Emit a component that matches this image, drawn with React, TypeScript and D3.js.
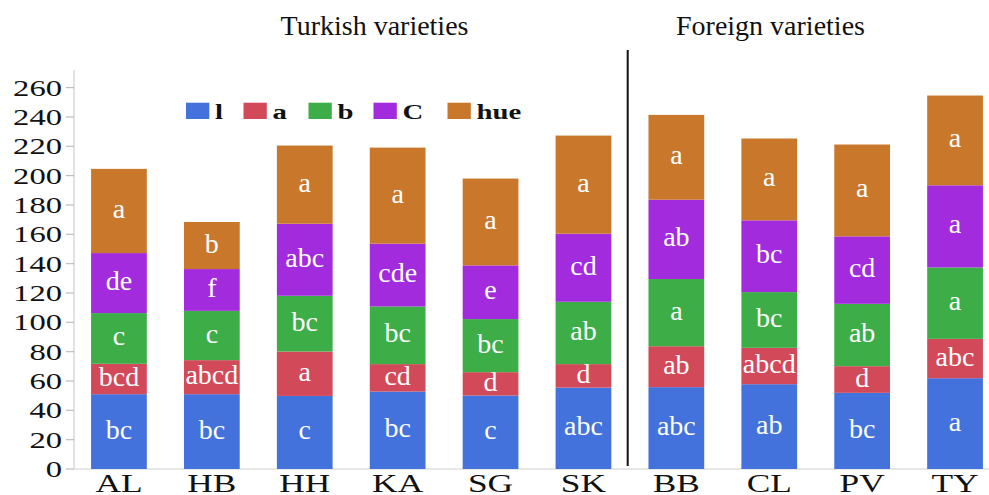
import React from "react";
import * as d3 from "d3";

const categories = ["AL", "HB", "HH", "KA", "SG", "SK", "BB", "CL", "PV", "TY"];
const seriesNames = ["l", "a", "b", "C", "hue"];
const lValues = [51.0, 51.0, 49.8, 52.8, 50.1, 55.5, 55.8, 57.8, 51.9, 61.9];
const aValues = [20.7, 23.2, 30.3, 18.7, 15.9, 16.0, 27.9, 24.8, 18.2, 26.8];
const bValues = [34.6, 33.6, 38.0, 39.3, 36.2, 42.5, 45.8, 38.0, 42.5, 48.7];
const cValues = [40.9, 28.5, 49.1, 42.8, 36.6, 46.4, 54.1, 48.9, 46.0, 56.0];
const hueValues = [57.4, 32.1, 53.3, 65.5, 59.2, 66.9, 57.8, 55.8, 62.6, 61.2];
const lLetters = ["bc", "bc", "c", "bc", "c", "abc", "abc", "ab", "bc", "a"];
const aLetters = ["bcd", "abcd", "a", "cd", "d", "d", "ab", "abcd", "d", "abc"];
const bLetters = ["c", "c", "bc", "bc", "bc", "ab", "a", "bc", "ab", "a"];
const cLetters = ["de", "f", "abc", "cde", "e", "cd", "ab", "bc", "cd", "a"];
const hueLetters = ["a", "b", "a", "a", "a", "a", "a", "a", "a", "a"];
const yTicks = [0, 20, 40, 60, 80, 100, 120, 140, 160, 180, 200, 220, 240, 260];
const groupTitles = ["Turkish varieties", "Foreign varieties"];

const colors = ["#4472DC", "#D24A5A", "#3DAE47", "#A22BDD", "#C9782B"];
const FONT = "Liberation Serif, Times New Roman, serif";
const ts: React.CSSProperties = { fontFamily: FONT };

export default function App() {
  const W = 989;
  const H = 495;
  const series = [lValues, aValues, bValues, cValues, hueValues];
  const letters = [lLetters, aLetters, bLetters, cLetters, hueLetters];

  const x = d3
    .scaleBand<string>()
    .domain(categories)
    .range([72.5, 1001.5])
    .paddingInner(0.4)
    .paddingOuter(0.2);
  const y = d3.scaleLinear().domain([0, 260]).range([469, 87.6]);

  const table = categories.map((c, i) => {
    const row: any = { cat: c };
    seriesNames.forEach((s, k) => (row[s] = series[k][i]));
    return row;
  });
  const stacked = d3.stack<any>().keys(seriesNames)(table);

  const legendX = [186, 243.5, 308.5, 373.5, 447.5];
  const divX = 627.7;

  return (
    <div style={{ position: "absolute", left: 0, top: 0 }}>
      <svg width={W} height={H} style={{ display: "block", background: "#fff" }}>
        {/* titles */}
        <text x={374.5} y={35} textAnchor="middle" fontSize={28} fill="#111" style={ts}>
          {groupTitles[0]}
        </text>
        <text x={770.5} y={35} textAnchor="middle" fontSize={28} fill="#111" style={ts}>
          {groupTitles[1]}
        </text>

        {/* axes */}
        <line x1={74} x2={74} y1={70} y2={469} stroke="#cfcfcf" strokeWidth={1.2} />
        <line x1={74} x2={989} y1={469} y2={469} stroke="#cfcfcf" strokeWidth={1.2} />
        {yTicks.map((t) => (
          <g key={t}>
            <line x1={66} x2={74} y1={y(t)} y2={y(t)} stroke="#bdbdbd" strokeWidth={1.2} />
            <text
              transform={`translate(62,${y(t) + 8}) scale(1.36,1)`}
              textAnchor="end"
              fontSize={24}
              fill="#111"
              style={ts}
            >
              {t}
            </text>
          </g>
        ))}

        {/* bars */}
        {stacked.map((layer, k) => (
          <g key={layer.key}>
            {layer.map((d, i) => {
              const y0 = y(d[0]);
              const y1 = y(d[1]);
              const bx = x(categories[i])!;
              return (
                <g key={i}>
                  <rect x={bx} y={y1} width={x.bandwidth()} height={y0 - y1} fill={colors[k]} />
                  <text
                    x={bx + x.bandwidth() / 2}
                    y={(y0 + y1) / 2 + 7}
                    textAnchor="middle"
                    fontSize={28}
                    fill="#fff"
                    style={ts}
                  >
                    {letters[k][i]}
                  </text>
                </g>
              );
            })}
          </g>
        ))}

        {/* divider */}
        <line x1={divX} x2={divX} y1={50} y2={466} stroke="#111" strokeWidth={2} />

        {/* x labels */}
        {categories.map((c) => (
          <text
            key={c}
            transform={`translate(${x(c)! + x.bandwidth() / 2},492) scale(1.36,1)`}
            textAnchor="middle"
            fontSize={26}
            fill="#111"
            style={ts}
          >
            {c}
          </text>
        ))}

        {/* legend */}
        {seriesNames.map((s, k) => (
          <g key={s}>
            <rect x={legendX[k]} y={102.7} width={23.3} height={16.3} fill={colors[k]} />
            <text
              transform={`translate(${legendX[k] + 29},119) scale(1.37,1)`}
              fontSize={21}
              fontWeight="bold"
              fill="#111"
              style={ts}
            >
              {s}
            </text>
          </g>
        ))}
      </svg>
    </div>
  );
}
